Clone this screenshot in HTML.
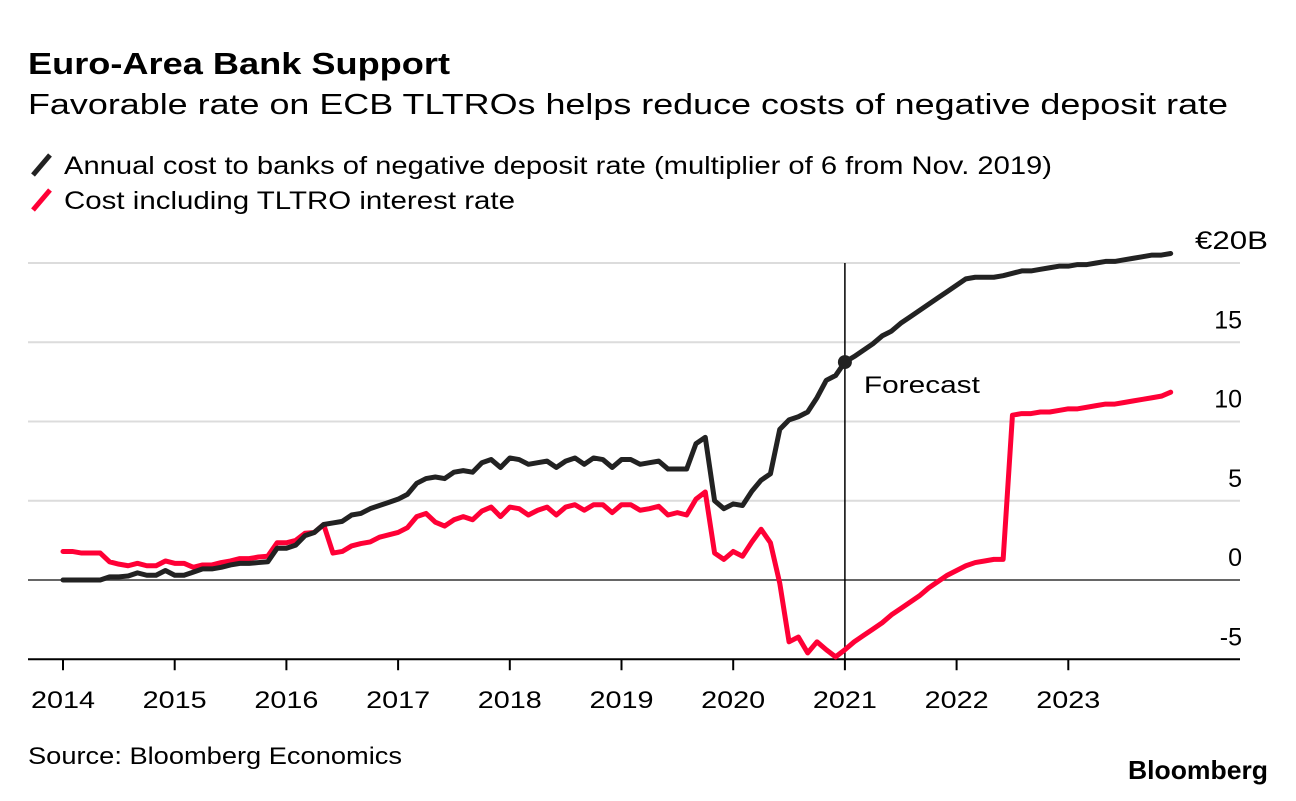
<!DOCTYPE html>
<html><head><meta charset="utf-8"><style>
body{margin:0;background:#fff;width:1296px;height:796px;overflow:hidden;font-family:"Liberation Sans",sans-serif;}
</style></head><body>
<svg width="1296" height="796" xmlns="http://www.w3.org/2000/svg" font-family="Liberation Sans, sans-serif">
<text x="28" y="74" font-size="31" font-weight="bold" fill="#000" textLength="422" lengthAdjust="spacingAndGlyphs">Euro-Area Bank Support</text>
<text x="28" y="114" font-size="29" fill="#000" textLength="1200" lengthAdjust="spacingAndGlyphs">Favorable rate on ECB TLTROs helps reduce costs of negative deposit rate</text>
<g>
<line x1="33" y1="175" x2="50" y2="155" stroke="#222" stroke-width="5"/>
<text x="64" y="174" font-size="25" fill="#000" textLength="988" lengthAdjust="spacingAndGlyphs">Annual cost to banks of negative deposit rate (multiplier of 6 from Nov. 2019)</text>
<line x1="33" y1="210" x2="50" y2="190" stroke="#ff0036" stroke-width="5"/>
<text x="64" y="209" font-size="25" fill="#000" textLength="451" lengthAdjust="spacingAndGlyphs">Cost including TLTRO interest rate</text>
</g>
<g id="grid"></g>
<g id="series"></g>
<text x="1188" y="393" font-size="24" textLength="116" lengthAdjust="spacingAndGlyphs" id="fc">Forecast</text>
<text x="28" y="764" font-size="24" fill="#000" textLength="374" lengthAdjust="spacingAndGlyphs">Source: Bloomberg Economics</text>
<text x="1268" y="779" font-size="26" font-weight="bold" text-anchor="end" textLength="140" lengthAdjust="spacingAndGlyphs" fill="#000">Bloomberg</text>
</svg>
<script>
const yTicks=[-5,0,5,10,15,20];
const yTickLabels=["-5","0","5","10","15","€20B"];
const years=[2014,2015,2016,2017,2018,2019,2020,2021,2022,2023];
const depositCost=[0,0,0,0,0,0.2,0.2,0.25,0.45,0.3,0.3,0.6,
0.3,0.3,0.5,0.7,0.7,0.8,0.95,1.05,1.05,1.1,1.15,2.0,
2.0,2.2,2.8,3.0,3.5,3.6,3.7,4.1,4.2,4.5,4.7,4.9,
5.1,5.4,6.1,6.4,6.5,6.4,6.8,6.9,6.8,7.4,7.6,7.1,
7.7,7.6,7.3,7.4,7.5,7.1,7.5,7.7,7.3,7.7,7.6,7.1,
7.6,7.6,7.3,7.4,7.5,7.0,7.0,7.0,8.6,9.0,5.0,4.5,
4.8,4.7,5.6,6.3,6.7,9.5,10.1,10.3,10.6,11.5,12.6,12.9,
13.75,14.1,14.5,14.9,15.4,15.7,16.2,16.6,17.0,17.4,17.8,18.2,
18.6,19.0,19.1,19.1,19.1,19.2,19.35,19.5,19.5,19.6,19.7,19.8,
19.8,19.9,19.9,20.0,20.1,20.1,20.2,20.3,20.4,20.5,20.5,20.6];
const tltroCost=[1.8,1.8,1.7,1.7,1.7,1.15,1.0,0.9,1.05,0.9,0.9,1.2,
1.05,1.05,0.8,0.95,0.95,1.1,1.2,1.35,1.35,1.45,1.5,2.35,
2.35,2.5,2.95,3.0,3.5,1.7,1.8,2.15,2.3,2.4,2.7,2.85,
3.0,3.3,4.0,4.2,3.65,3.4,3.8,4.0,3.8,4.35,4.6,4.0,
4.6,4.5,4.1,4.4,4.6,4.1,4.6,4.75,4.4,4.75,4.75,4.25,
4.75,4.75,4.4,4.5,4.65,4.1,4.25,4.1,5.1,5.55,1.7,1.3,
1.8,1.5,2.4,3.2,2.35,-0.2,-3.9,-3.6,-4.6,-3.9,-4.4,-4.85,
-4.4,-3.9,-3.5,-3.1,-2.7,-2.2,-1.8,-1.4,-1.0,-0.5,-0.1,0.3,
0.6,0.9,1.1,1.2,1.3,1.3,10.4,10.5,10.5,10.6,10.6,10.7,
10.8,10.8,10.9,11.0,11.1,11.1,11.2,11.3,11.4,11.5,11.6,11.85];
const forecastStart=84;
const ns="http://www.w3.org/2000/svg";
const X0=63,YEARW=111.7,Y0=580,UNIT=15.85;
const xm=i=>X0+i*YEARW/12;
const xy=y=>X0+(y-2014)*YEARW;
const yv=v=>Y0-v*UNIT;
function mk(tag,attrs,parent){const e=document.createElementNS(ns,tag);for(const k in attrs)e.setAttribute(k,attrs[k]);parent.appendChild(e);return e;}
const grid=document.getElementById('grid');
yTicks.forEach((t,i)=>{
  if(t!==0&&t!==-5){const l=mk('line',{x1:28,x2:1240,y1:yv(t),y2:yv(t),stroke:'#dcdcdc','stroke-width':2},grid);
  
  }
  const tx=mk('text',{x:t===20?1268:1242,y:yv(t)-14,'font-size':25,'text-anchor':'end',fill:'#000'},grid);
  tx.textContent=yTickLabels[i];
  if(t===20){tx.setAttribute('textLength',73);tx.setAttribute('lengthAdjust','spacingAndGlyphs');}
  
  
});
const z=mk('line',{x1:28,x2:1240,y1:yv(0),y2:yv(0),stroke:'#333','stroke-width':1.5},grid);


const ax=mk('line',{x1:28,x2:1240,y1:yv(-5),y2:yv(-5),stroke:'#000','stroke-width':2},grid);


years.forEach(yr=>{
  const tk=mk('line',{x1:xy(yr),x2:xy(yr),y1:yv(-5),y2:yv(-5)+11,stroke:'#000','stroke-width':2},grid);
  
  
  const tl=mk('text',{x:xy(yr),y:708,'font-size':24,'text-anchor':'middle',fill:'#000',textLength:64,lengthAdjust:'spacingAndGlyphs'},grid);
  tl.textContent=yr;
  
  
});
const fx=xm(forecastStart);
const vl=mk('line',{x1:fx,x2:fx,y1:yv(20),y2:yv(-5),stroke:'#000','stroke-width':1.5},grid);


const fc=document.getElementById('fc');fc.setAttribute('x',fx+19);
const g=document.getElementById('series');
function line(data,color,name){
  const p=mk('polyline',{points:data.map((v,i)=>xm(i)+','+yv(v)).join(' '),fill:'none',stroke:color,'stroke-width':5,'stroke-linejoin':'round','stroke-linecap':'round'},g);
  
  
}
line(tltroCost,'#ff0036','tltro-cost-line');
line(depositCost,'#222','deposit-cost-line');
const dot=mk('circle',{cx:fx,cy:yv(depositCost[forecastStart]),r:7,fill:'#222'},g);


</script>
</body></html>
